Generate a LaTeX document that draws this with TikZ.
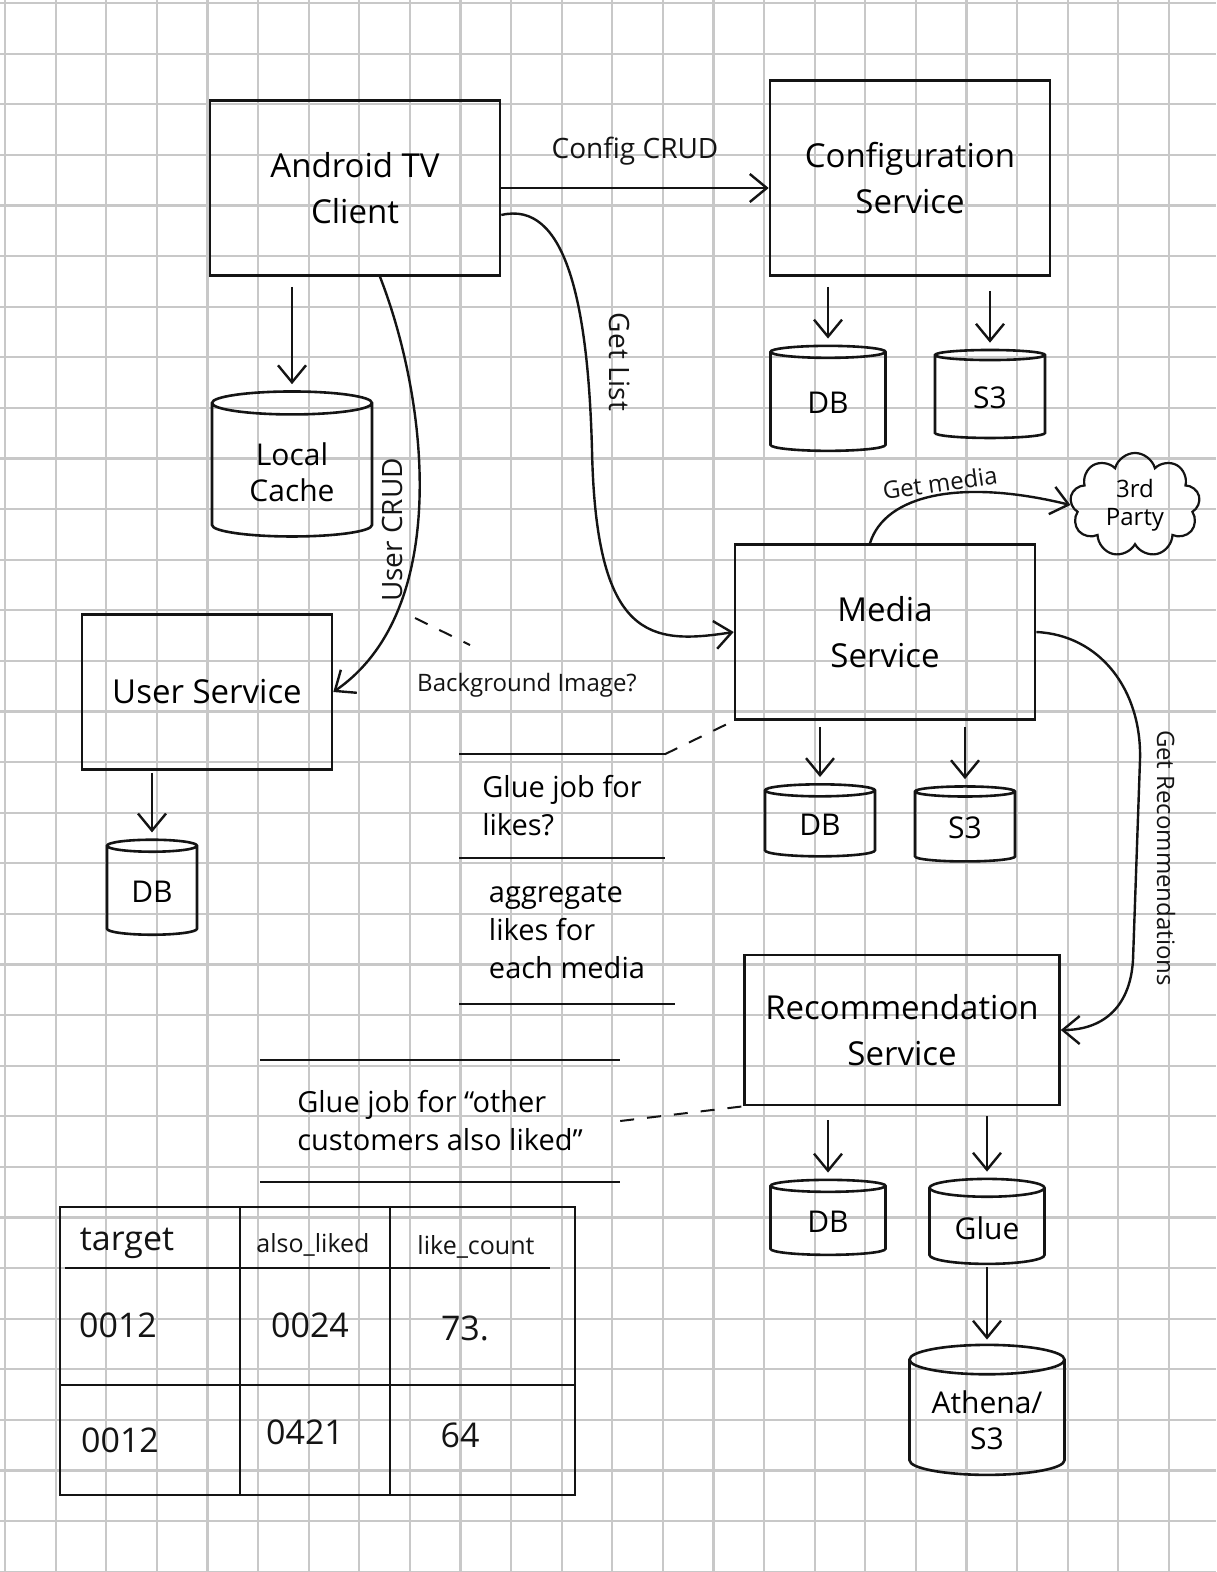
\documentclass[tikz,border=0pt]{standalone}
\usepackage{fontspec}
\setmainfont{Open Sans}
\usetikzlibrary{shapes.geometric,shapes.symbols,arrows.meta}
\definecolor{ink}{HTML}{141414}
\definecolor{gridline}{HTML}{C8C8C8}

\begin{document}
\begin{tikzpicture}[
        x=1pt, y=-1pt,
        service/.style={
            draw=ink,
            line width=2.6pt,
            align=center,
            font=\fontsize{33}{46}\selectfont
        },
        store/.style={
            cylinder,
            shape border rotate=90,
            aspect=0.25,
            draw=ink,
            line width=2.6pt,
            align=center,
            font=\fontsize{30}{36}\selectfont
        },
        call/.style={
            ->,
            >={Straight Barb[length=17pt,width=28pt]},
            line width=2.4pt,
            ink
        },
        maybe/.style={
            dash pattern=on 14pt off 13pt,
            line width=2pt,
            ink
        },
        note/.style={
            align=left,
            inner sep=2pt,
            font=\fontsize{29}{38}\selectfont
        },
        tag/.style={
            text=ink,
            font=\fontsize{24}{28}\selectfont
        },
        cell/.style={
            text=ink,
            font=\fontsize{34}{40}\selectfont
        }
    ]

    \useasboundingbox[fill=white] (0,0) rectangle (1216,1572);

    % squared paper
    \foreach \i in {0,...,23}
        \draw[gridline, line width=2.2pt] ({5+50.6*\i},0) -- ++(0,1572);
    \foreach \j in {0,...,31}
        \draw[gridline, line width=2.2pt] (0,{3+50.6*\j}) -- ++(1216,0);

    \node[service, minimum width=290pt, minimum height=175pt] (client) at (355,188) {Android TV\\Client};
    \node[service, minimum width=280pt, minimum height=195pt] (config) at (910,178) {Configuration\\Service};
    \node[store, minimum width=115pt, minimum height=105pt] (configdb) at (828,403) {DB};
    \node[store, minimum width=110pt, minimum height=88pt] (configs3) at (990,398) {S3};
    \node[store, minimum width=160pt, minimum height=145pt] (cache) at (292,472) {Local\\Cache};
    \node[service, minimum width=250pt, minimum height=155pt] (user) at (207,692) {User Service};
    \node[store, minimum width=90pt, minimum height=95pt] (userdb) at (152,892) {DB};
    \node[service, minimum width=300pt, minimum height=175pt] (media) at (885,632) {Media\\Service};
    \node[cloud, cloud puffs=9, aspect=1.2, draw=ink, line width=2.2pt, align=center,
          minimum width=130pt, minimum height=100pt, font=\fontsize{24}{28}\selectfont] (party) at (1135,505) {3rd\\Party};
    \node[store, minimum width=110pt, minimum height=72pt] (mediadb) at (820,825) {DB};
    \node[store, minimum width=100pt, minimum height=75pt] (medias3) at (965,828) {S3};
    \node[service, minimum width=315pt, minimum height=150pt] (rec) at (902,1030) {Recommendation\\Service};
    \node[store, minimum width=115pt, minimum height=75pt] (recdb) at (828,1222) {DB};
    \node[store, minimum width=115pt, minimum height=85pt] (glue) at (987,1228) {Glue};
    \node[store, minimum width=155pt, minimum height=130pt] (athena) at (987,1420) {Athena/\\S3};

    % glue job notes
    \node[note, minimum width=205pt, minimum height=103pt] (likes) at (562,806) {Glue job for\\likes?};
    \node[note, minimum width=215pt, minimum height=145pt] (aggregate) at (567,931) {aggregate\\likes for\\each media};
    \node[note, minimum width=360pt, minimum height=122pt] (alsoliked) at (440,1121) {Glue job for ``other\\customers also liked''};
    \draw[ink, line width=2.2pt] (likes.north west) -- (likes.north east);
    \draw[ink, line width=2.2pt] (likes.south west) -- (likes.south east);
    \draw[ink, line width=2.2pt] (aggregate.south west) -- (aggregate.south east);
    \draw[ink, line width=2.2pt] (alsoliked.north west) -- (alsoliked.north east);
    \draw[ink, line width=2.2pt] (alsoliked.south west) -- (alsoliked.south east);
    \draw[maybe] (likes.north east) -- (media.south west);
    \draw[maybe] (alsoliked.east) -- (rec.south west);

    % calls between services
    \draw[call] (client.east) -- (client.east -| config.west)
        node[tag, midway, above=18pt, font=\fontsize{28}{32}\selectfont] (crudlabel) {Config CRUD};
    \draw[call] ([yshift=-27pt]client.east) .. controls (565,200) and (588,300) .. (592,450)
        .. controls (596,640) and (650,645) .. (media.west);
    \node[tag, rotate=-90, font=\fontsize{28}{32}\selectfont] (listlabel) at (620,362) {Get List};
    \draw[call] ([xshift=25pt]client.south) .. controls (428,400) and (452,610) .. (user.east);
    \node[tag, rotate=90, font=\fontsize{28}{32}\selectfont] (userlabel) at (392,530) {User CRUD};
    \draw[maybe] (415,618) coordinate (bgstart) -- (470,645) coordinate (bgend);
    \node[tag] (bglabel) at (527,685) {Background Image?};
    \draw[call] ([xshift=-15pt]media.north) .. controls (885,495) and (960,478) .. (party.west);
    \node[tag, rotate=8] (medialabel) at (940,483) {Get media};
    \draw[call] (media.east) .. controls (1100,635) and (1142,690) .. (1140,760)
        -- (1133,960) .. controls (1130,1010) and (1100,1030) .. (rec.east);
    \node[tag, rotate=-90] (reclabel) at (1166,858) {Get Recommendations};

    % stores
    \draw[call, shorten <=10pt, shorten >=6pt] (client.south -| cache.north) -- (cache.north);
    \draw[call, shorten <=10pt, shorten >=6pt] (config.south -| configdb.north) -- (configdb.north);
    \draw[call, shorten <=14pt, shorten >=6pt] (config.south -| configs3.north) -- (configs3.north);
    \draw[call, shorten <=2pt, shorten >=6pt] (user.south -| userdb.north) -- (userdb.north);
    \draw[call, shorten <=6pt, shorten >=6pt] (media.south -| mediadb.north) -- (mediadb.north);
    \draw[call, shorten <=6pt, shorten >=6pt] (media.south -| medias3.north) -- (medias3.north);
    \draw[call, shorten <=14pt, shorten >=6pt] (rec.south -| recdb.north) -- (recdb.north);
    \draw[call, shorten <=10pt, shorten >=6pt] (rec.south -| glue.north) -- (glue.north);
    \draw[call, shorten <=2pt, shorten >=4pt] (glue.south -| athena.north) -- (athena.north);

    % sample rows of the also-liked table
    \draw[ink, line width=2.6pt] (60,1207) rectangle (575,1495);
    \draw[ink, line width=2.6pt] (240,1207) -- (240,1495);
    \draw[ink, line width=2.6pt] (390,1207) -- (390,1495);
    \draw[ink, line width=2.4pt] (65,1268) -- (550,1268);
    \draw[ink, line width=2.4pt] (60,1385) -- (575,1385);
    \node[cell] (htarget) at (127,1243) {target};
    \node[cell, font=\fontsize{25}{30}\selectfont] (halso) at (313,1245) {also\_liked};
    \node[cell, font=\fontsize{25}{30}\selectfont] (hcount) at (476,1247) {like\_count};
    \node[cell] (r1target) at (118,1325) {0012};
    \node[cell] (r1also) at (310,1325) {0024};
    \node[cell] (r1count) at (465,1328) {73.};
    \node[cell] (r2target) at (120,1440) {0012};
    \node[cell] (r2also) at (305,1432) {0421};
    \node[cell] (r2count) at (460,1435) {64};

\end{tikzpicture}
\end{document}
